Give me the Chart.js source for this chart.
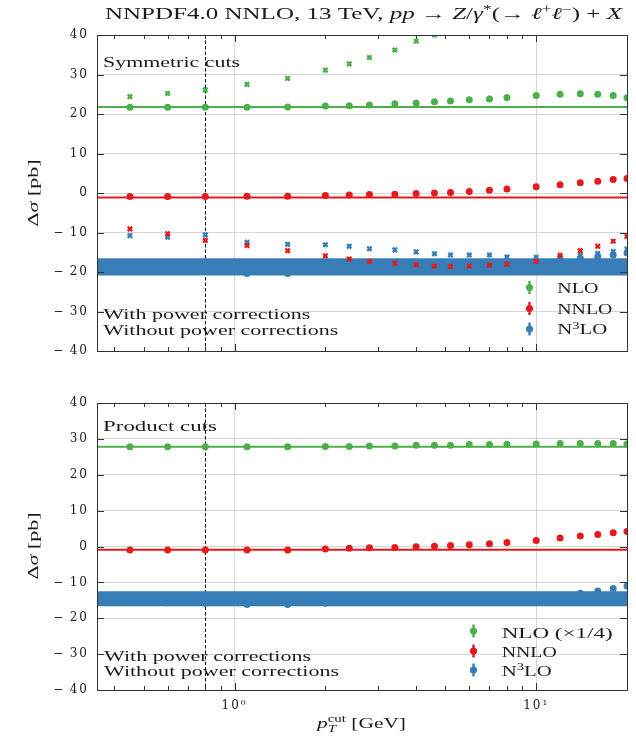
<!DOCTYPE html>
<html>
<head>
<meta charset="utf-8">
<script src="https://cdn.jsdelivr.net/npm/chart.js@4/dist/chart.umd.min.js"></script>
<style>
  html, body { margin: 0; padding: 0; background: #fff; }
  #wrap { position: relative; width: 636px; height: 738px; overflow: hidden; }
  canvas { position: absolute; left: 0; }
  #sym { top: 0; width: 636px; height: 372px; }
  #prod { top: 372px; width: 636px; height: 366px; }
</style>
</head>
<body>
<div id="wrap">
  <canvas id="sym" width="636" height="372"></canvas>
  <canvas id="prod" width="636" height="366"></canvas>
</div>
<script>
// p_T cut values in GeV
const ptCut = [0.45, 0.6, 0.8, 1.1, 1.5, 2.0, 2.4, 2.8, 3.4, 4.0, 4.6, 5.2, 6.0, 7.0, 8.0, 10, 12, 14, 16, 18, 20];
const xMin = 0.35, xMax = 20;
const yMin = -40, yMax = 40, yStep = 10;
const xTickValues = [0.4, 0.5, 0.6, 0.7, 0.8, 0.9, 1, 2, 3, 4, 5, 6, 7, 8, 9, 10];
const xMajor = [1, 10];
const xMajorText = ['10\u2070', '10\u00b9'];
const ptCutRef = 0.8;

// Symmetric cuts: Δσ in pb
const symNloPC    = [21.7, 21.7, 21.7, 21.7, 21.8, 22.0, 22.1, 22.3, 22.6, 22.8, 23.1, 23.3, 23.6, 23.8, 24.2, 24.7, 25.0, 25.1, 25.0, 24.7, 24.1];
const symNloNoPC  = [24.4, 25.2, 26.1, 27.5, 29.0, 31.1, 32.7, 34.3, 36.2, 38.4, 40.0, null, null, null, null, null, null, null, null, null, null];
const symNnloPC   = [-0.9, -0.9, -0.9, -0.85, -0.8, -0.65, -0.5, -0.4, -0.3, -0.15, 0.0, 0.15, 0.4, 0.7, 1.0, 1.6, 2.1, 2.6, 3.0, 3.4, 3.7];
const symNnloNoPC = [-9.1, -10.3, -12.0, -13.3, -14.6, -15.9, -16.7, -17.3, -17.8, -18.2, -18.5, -18.6, -18.5, -18.3, -18.0, -17.3, -15.8, -14.6, -13.5, -12.2, -11.0];
const symN3loPC   = [-19.2, -19.3, -19.5, -20.4, -20.4, -19.8, -19.6, -19.4, -19.2, -19.0, -18.8, -18.6, -18.4, -18.2, -18.0, -17.4, -16.9, -16.5, -16.1, -15.7, -15.2];
const symN3loNoPC = [-10.8, -11.2, -10.6, -12.5, -13.0, -13.1, -13.5, -14.1, -14.4, -14.9, -15.4, -15.7, -15.7, -15.7, -16.2, -16.3, -16.3, -15.8, -15.3, -14.8, -14.2];
const symNloLine  = 21.8;
const symNnloLine = -1.15;
const symN3loBand = [-20.9, -16.5];

// Product cuts: Δσ in pb (NLO scaled by 1/4)
const prodNloPC   = [27.8, 27.8, 27.8, 27.8, 27.8, 27.9, 27.9, 28.0, 28.0, 28.2, 28.2, 28.2, 28.4, 28.4, 28.5, 28.6, 28.7, 28.7, 28.7, 28.7, 28.6];
const prodNnloPC  = [-1.0, -1.0, -1.0, -1.0, -0.95, -0.7, -0.5, -0.37, -0.28, -0.1, 0.1, 0.28, 0.46, 0.74, 1.1, 1.67, 2.4, 2.9, 3.35, 3.8, 4.2];
const prodN3loPC  = [-15.6, -15.7, -15.8, -16.2, -16.2, -15.8, -15.6, -15.5, -15.4, -15.3, -15.2, -15.1, -15.0, -14.8, -14.6, -14.2, -13.8, -13.0, -12.4, -11.7, -11.0];
const prodNloLine  = 27.8;
const prodNnloLine = -0.9;
const prodN3loBand = [-16.65, -12.5];

const GREEN = '#4daf4a', RED = '#e41a1c', BLUE = '#377eb8';
const GRID = '#d6d6d6', INK = '#1a1a1a';
const SERIF = '"Liberation Serif", "DejaVu Serif", serif';

const pts = arr => ptCut.map((x, i) => ({ x, y: arr[i] }));
const flat = v => [{ x: xMin, y: v }, { x: xMax, y: v }];

function markers(label, arr, color, style, order) {
  const round = style === 'circle';
  return {
    label, data: pts(arr), showLine: false, order,
    pointStyle: style, pointRadius: round ? 3.5 : 3.1,
    pointBackgroundColor: color, pointBorderColor: color,
    pointBorderWidth: round ? 0 : 2.4
  };
}
function hline(label, v, color, order) {
  return { label, data: flat(v), showLine: true, borderColor: color, borderWidth: 2, pointRadius: 0, fill: false, order };
}
function band(label, lims, color, order) {
  return [
    { label: label + ' low', data: flat(lims[0]), showLine: true, borderWidth: 0, borderColor: color, pointRadius: 0, fill: false, order },
    { label: label + ' high', data: flat(lims[1]), showLine: true, borderWidth: 0, borderColor: color, backgroundColor: color, pointRadius: 0, fill: '-1', order }
  ];
}

// rich text: segments {t, i (italic), sup, sub, hold (no advance)}
function segFont(s, size) {
  const sz = (s.sup || s.sub) ? size * 0.7 : size;
  return (s.i ? 'italic ' : '') + sz + 'px ' + SERIF;
}
function drawRich(ctx, item) {
  const { segs, size, width } = item;
  ctx.save();
  ctx.letterSpacing = '0px';
  ctx.fillStyle = INK;
  ctx.textBaseline = 'alphabetic';
  ctx.textAlign = 'left';
  let nat = 0, hold = 0;
  for (const s of segs) {
    ctx.font = segFont(s, size);
    const w = ctx.measureText(s.t).width;
    if (s.hold) { hold = w; continue; }
    nat += Math.max(w, hold); hold = 0;
  }
  const sx = width / nat;
  if (item.rot) {
    ctx.translate(item.x, item.y);
    ctx.rotate(-Math.PI / 2);
    ctx.translate(-width / 2, 0);
  } else {
    ctx.translate(item.align === 'center' ? item.x - width / 2 : item.x, item.y);
  }
  ctx.scale(sx, 1);
  let pen = 0; hold = 0;
  for (const s of segs) {
    ctx.font = segFont(s, size);
    const w = ctx.measureText(s.t).width;
    const dy = s.sup ? -size * 0.38 : s.sub ? size * 0.25 : 0;
    ctx.fillText(s.t, pen, dy);
    if (s.hold) { hold = w; continue; }
    pen += Math.max(w, hold); hold = 0;
  }
  ctx.restore();
}
function legendMark(ctx, x, y, color) {
  ctx.save();
  ctx.strokeStyle = color; ctx.fillStyle = color; ctx.lineWidth = 2.4;
  ctx.beginPath(); ctx.moveTo(x, y - 6.5); ctx.lineTo(x, y + 6.5); ctx.stroke();
  ctx.beginPath(); ctx.arc(x, y, 3.6, 0, Math.PI * 2); ctx.fill();
  ctx.restore();
}

function panelPlugin(texts, legend) {
  return {
    id: 'panel',
    beforeDraw(chart) { chart.ctx.letterSpacing = '2px'; },
    beforeDatasetsDraw(chart) {
      const { ctx, chartArea: a, scales: { x } } = chart;
      const px = Math.round(x.getPixelForValue(ptCutRef)) + 0.5;
      ctx.save();
      ctx.strokeStyle = '#111'; ctx.lineWidth = 1; ctx.setLineDash([3.5, 2]);
      ctx.beginPath(); ctx.moveTo(px, a.top); ctx.lineTo(px, a.bottom); ctx.stroke();
      ctx.restore();
    },
    afterDatasetsDraw(chart) {
      const { ctx, chartArea: a, scales: { x, y } } = chart;
      ctx.save();
      ctx.strokeStyle = '#333'; ctx.lineWidth = 1;
      ctx.beginPath();
      for (const t of x.ticks) {
        const px = Math.round(x.getPixelForValue(t.value)) + 0.5;
        const len = xMajor.includes(t.value) ? 7 : 4;
        ctx.moveTo(px, a.top); ctx.lineTo(px, a.top + len);
        ctx.moveTo(px, a.bottom); ctx.lineTo(px, a.bottom - len);
      }
      for (const t of y.ticks) {
        const py = Math.round(y.getPixelForValue(t.value)) + 0.5;
        ctx.moveTo(a.left, py); ctx.lineTo(a.left + 7, py);
        ctx.moveTo(a.right, py); ctx.lineTo(a.right - 7, py);
      }
      ctx.stroke();
      ctx.strokeRect(Math.round(a.left) + 0.5, Math.round(a.top) + 0.5, Math.round(a.right - a.left), Math.round(a.bottom - a.top));
      ctx.restore();
      for (const it of texts) drawRich(ctx, it);
      for (const l of legend) {
        legendMark(ctx, l.mx, l.my, l.color);
        drawRich(ctx, l.text);
      }
      ctx.letterSpacing = '0px';
    }
  };
}

function scales(showXLabels, xAxisHeight) {
  return {
    x: {
      type: 'logarithmic', min: xMin, max: xMax,
      afterBuildTicks: s => { s.ticks = xTickValues.map(v => ({ value: v, major: xMajor.includes(v) })); },
      afterFit: s => { s.height = xAxisHeight; },
      grid: { color: c => (c.tick && xMajor.includes(c.tick.value)) ? GRID : 'rgba(0,0,0,0)', drawTicks: false, lineWidth: 1 },
      border: { display: false },
      ticks: {
        display: showXLabels, autoSkip: false, maxRotation: 0, minRotation: 0, padding: 9,
        color: INK, font: { family: 'DejaVu Serif', size: 12 },
        callback: v => { const k = xMajor.indexOf(v); return k >= 0 ? xMajorText[k] : ''; }
      }
    },
    y: {
      min: yMin, max: yMax,
      afterFit: s => { s.width = 97; },
      grid: { color: GRID, drawTicks: false, lineWidth: 1 },
      border: { display: false },
      ticks: {
        stepSize: yStep, padding: 8, color: INK, font: { family: 'DejaVu Serif', size: 12 },
        callback: v => v < 0 ? '\u2212\u2009' + (-v) : String(v)
      }
    }
  };
}

const sigmaLabel = [{ t: '\u0394' }, { t: '\u03c3', i: 1 }, { t: ' [pb]' }];
const withPC = [{ t: 'With power corrections' }];
const withoutPC = [{ t: 'Without power corrections' }];

// Symmetric cuts panel
const symTexts = [
  { segs: [{ t: 'NNPDF4.0 NNLO, 13 TeV, ' }, { t: 'pp', i: 1 }, { t: ' \u2192 ' }, { t: 'Z', i: 1 }, { t: '/' }, { t: '\u03b3', i: 1 }, { t: '*', sup: 1 },
           { t: '(\u2192 ' }, { t: '\u2113', i: 1 }, { t: '+', sup: 1 }, { t: '\u2113', i: 1 }, { t: '\u2212', sup: 1 }, { t: ') + ' }, { t: 'X', i: 1 }],
    x: 363.5, y: 19, width: 517, size: 16.5, align: 'center' },
  { segs: [{ t: 'Symmetric cuts' }], x: 103, y: 66.5, width: 137, size: 15.5 },
  { segs: withPC, x: 103.3, y: 319.3, width: 207, size: 15 },
  { segs: withoutPC, x: 103.3, y: 335, width: 235, size: 15 },
  { segs: sigmaLabel, x: 37.5, y: 193, width: 67, size: 15, rot: 1 }
];
const symLegend = [
  { mx: 529.5, my: 287.5, color: GREEN, text: { segs: [{ t: 'NLO' }], x: 557.3, y: 292.7, width: 41, size: 15 } },
  { mx: 529.5, my: 308.5, color: RED, text: { segs: [{ t: 'NNLO' }], x: 557.3, y: 313.8, width: 55, size: 15 } },
  { mx: 529.5, my: 329, color: BLUE, text: { segs: [{ t: 'N' }, { t: '3', sup: 1 }, { t: 'LO' }], x: 557.3, y: 334.3, width: 50, size: 15 } }
];

new Chart(document.getElementById('sym'), {
  type: 'scatter',
  data: {
    datasets: [
      hline('NLO', symNloLine, GREEN, 6),
      hline('NNLO', symNnloLine, RED, 6),
      markers('N3LO with power corrections', symN3loPC, BLUE, 'circle', 7),
      ...band('N3LO', symN3loBand, BLUE, 5),
      markers('NLO with power corrections', symNloPC, GREEN, 'circle', 3),
      markers('NNLO with power corrections', symNnloPC, RED, 'circle', 3),
      markers('N3LO without power corrections', symN3loNoPC, BLUE, 'crossRot', 2),
      markers('NLO without power corrections', symNloNoPC, GREEN, 'crossRot', 1),
      markers('NNLO without power corrections', symNnloNoPC, RED, 'crossRot', 1)
    ]
  },
  options: {
    responsive: false, animation: false, devicePixelRatio: 1,
    layout: { padding: { top: 35, right: 9, left: 0, bottom: 0 } },
    plugins: { legend: { display: false }, tooltip: { enabled: false } },
    scales: scales(false, 21)
  },
  plugins: [panelPlugin(symTexts, symLegend)]
});

// Product cuts panel (coordinates relative to its own canvas)
const off = 372;
const prodTexts = [
  { segs: [{ t: 'Product cuts' }], x: 103, y: 431 - off, width: 114, size: 15 },
  { segs: withPC, x: 104, y: 660.7 - off, width: 207, size: 15 },
  { segs: withoutPC, x: 104, y: 676 - off, width: 235, size: 15 },
  { segs: sigmaLabel, x: 37.5, y: 546 - off, width: 67, size: 15, rot: 1 },
  { segs: [{ t: 'p', i: 1 }, { t: 'cut', sup: 1, hold: 1 }, { t: 'T', i: 1, sub: 1 }, { t: ' [GeV]' }], x: 361.5, y: 728 - off, width: 89, size: 15, align: 'center' }
];
const prodLegend = [
  { mx: 473.5, my: 631 - off, color: GREEN, text: { segs: [{ t: 'NLO (\u00d71/4)' }], x: 501.7, y: 637.5 - off, width: 111, size: 15 } },
  { mx: 473.5, my: 651 - off, color: RED, text: { segs: [{ t: 'NNLO' }], x: 501.7, y: 656.7 - off, width: 55, size: 15 } },
  { mx: 473.5, my: 670 - off, color: BLUE, text: { segs: [{ t: 'N' }, { t: '3', sup: 1 }, { t: 'LO' }], x: 501.7, y: 675.7 - off, width: 50, size: 15 } }
];

new Chart(document.getElementById('prod'), {
  type: 'scatter',
  data: {
    datasets: [
      hline('NLO', prodNloLine, GREEN, 6),
      hline('NNLO', prodNnloLine, RED, 6),
      markers('N3LO with power corrections', prodN3loPC, BLUE, 'circle', 7),
      ...band('N3LO', prodN3loBand, BLUE, 5),
      markers('NLO with power corrections', prodNloPC, GREEN, 'circle', 3),
      markers('NNLO with power corrections', prodNnloPC, RED, 'circle', 3)
    ]
  },
  options: {
    responsive: false, animation: false, devicePixelRatio: 1,
    layout: { padding: { top: 31, right: 9, left: 0, bottom: 0 } },
    plugins: { legend: { display: false }, tooltip: { enabled: false } },
    scales: scales(true, 48)
  },
  plugins: [panelPlugin(prodTexts, prodLegend)]
});
</script>
</body>
</html>
